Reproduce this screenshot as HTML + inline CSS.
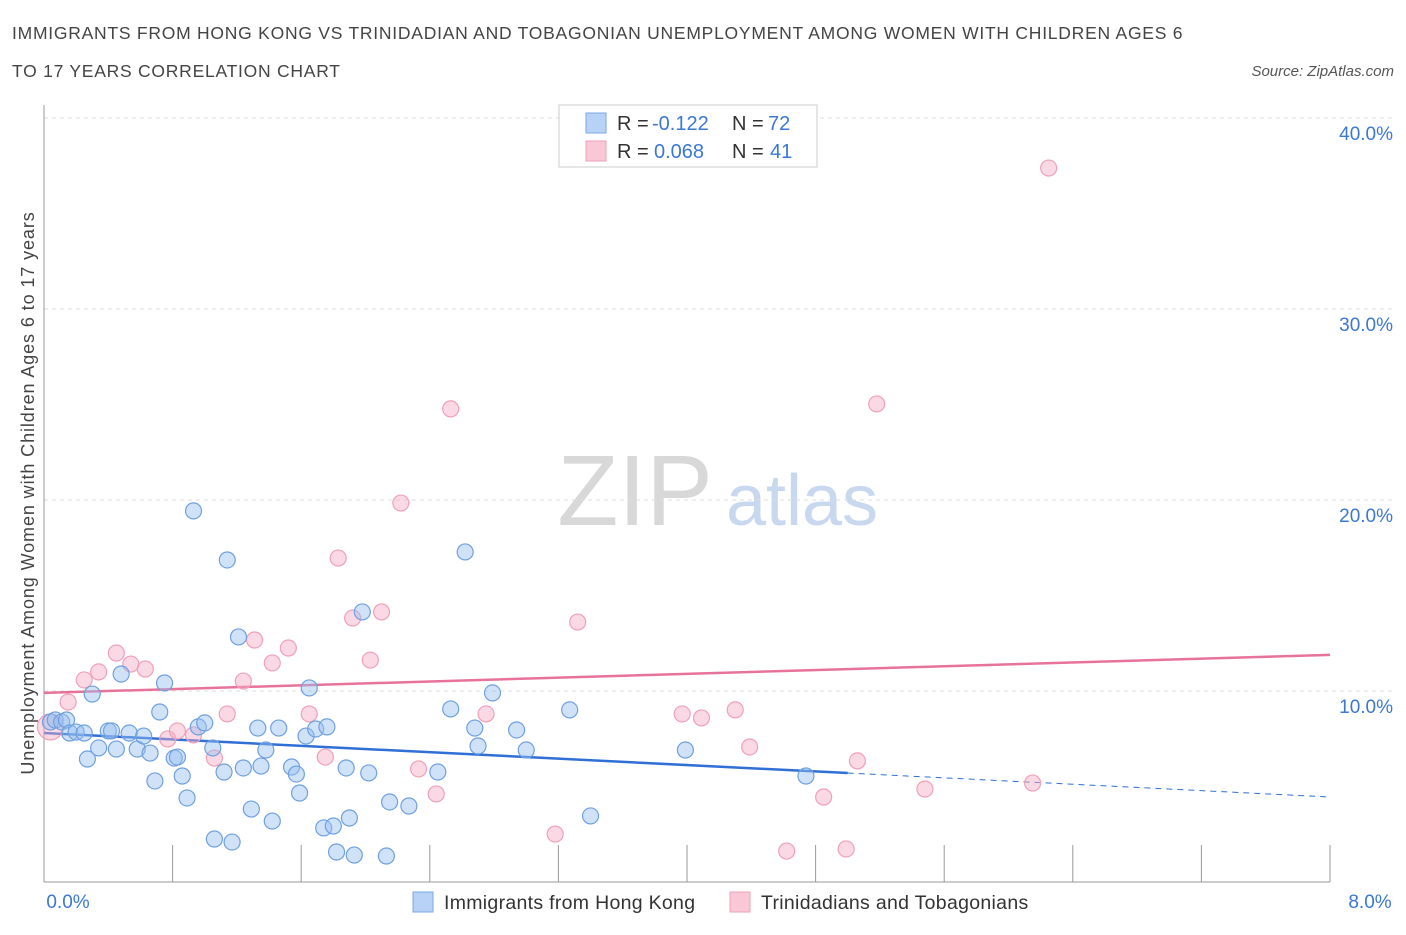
<!DOCTYPE html>
<html><head><meta charset="utf-8"><style>
body{margin:0;background:#fff;font-family:"Liberation Sans",sans-serif}
svg text{font-family:"Liberation Sans",sans-serif}
</style></head><body>
<svg id="chart" width="1406" height="930" xmlns="http://www.w3.org/2000/svg">
<text x="12" y="39" font-size="17.5" letter-spacing="0.75" fill="#444">IMMIGRANTS FROM HONG KONG VS TRINIDADIAN AND TOBAGONIAN UNEMPLOYMENT AMONG WOMEN WITH CHILDREN AGES 6</text>
<text x="12" y="77" font-size="17.5" letter-spacing="0.75" fill="#444">TO 17 YEARS CORRELATION CHART</text>
<text x="1394" y="76" font-size="15" fill="#555" font-style="italic" text-anchor="end">Source: ZipAtlas.com</text>
<text transform="translate(34,493) rotate(-90)" font-size="18" letter-spacing="0.9" fill="#444" text-anchor="middle">Unemployment Among Women with Children Ages 6 to 17 years</text>
<g><text x="635" y="525" font-size="100" fill="#d8d8d8" font-family="Liberation Serif" text-anchor="middle">ZIP</text><text x="802" y="525" font-size="72" fill="#c8d8ee" text-anchor="middle">atlas</text></g>
<g id="grid"></g><g id="axes"></g><g id="trend"></g><g id="pts"></g>
<g>
<rect x="559" y="105" width="258" height="62" fill="#fff" stroke="#ccc"/>
<rect x="586" y="113" width="20" height="20" fill="#b8d2f5" stroke="#7aaae6"/>
<rect x="586" y="141" width="20" height="20" fill="#f8c8d6" stroke="#f0a0b8"/>
<text x="617" y="130" font-size="20" fill="#333">R =</text>
<text x="652" y="130" font-size="20" fill="#3a78d4">-0.122</text>
<text x="732" y="130" font-size="20" fill="#333">N =</text>
<text x="768" y="130" font-size="20" fill="#3a78d4">72</text>
<text x="617" y="158" font-size="20" fill="#333">R =</text>
<text x="654" y="158" font-size="20" fill="#3a78d4">0.068</text>
<text x="732" y="158" font-size="20" fill="#333">N =</text>
<text x="770" y="158" font-size="20" fill="#3a78d4">41</text>
</g>
<g>
<rect x="413" y="892" width="20" height="20" fill="#b8d2f5" stroke="#7aaae6"/>
<text x="444" y="909" font-size="19.5" letter-spacing="0.3" fill="#333">Immigrants from Hong Kong</text>
<rect x="730" y="892" width="20" height="20" fill="#f8c8d6" stroke="#f0a0b8"/>
<text x="761" y="909" font-size="19.5" letter-spacing="0.3" fill="#333">Trinidadians and Tobagonians</text>
</g>
</svg>
<script>
const yTicks=[10,20,30,40];
const yTickLabels=["10.0%","20.0%","30.0%","40.0%"];
const xTickLabels=["0.0%","8.0%"];
const blueX=[0.04,0.07,0.11,0.14,0.16,0.20,0.25,0.27,0.30,0.34,0.40,0.42,0.45,0.48,0.53,0.58,0.62,0.66,0.69,0.72,0.75,0.81,0.83,0.86,0.89,0.93,0.96,1.00,1.05,1.06,1.12,1.14,1.17,1.21,1.24,1.29,1.33,1.35,1.38,1.42,1.46,1.54,1.57,1.59,1.63,1.65,1.69,1.74,1.76,1.80,1.82,1.88,1.90,1.93,1.98,2.02,2.13,2.15,2.27,2.45,2.53,2.62,2.68,2.70,2.79,2.94,3.00,3.27,3.40,3.99,4.74];
const blueY=[8.38,8.48,8.38,8.48,7.80,7.85,7.80,6.44,9.84,7.02,7.91,7.91,6.96,10.89,7.80,6.96,7.64,6.75,5.29,8.90,10.42,6.49,6.54,5.55,4.40,19.43,8.12,8.33,7.02,2.25,5.76,16.86,2.09,12.83,5.97,3.82,8.06,6.07,6.91,3.19,8.06,6.02,5.65,4.66,7.64,10.16,8.01,2.83,8.12,2.93,1.57,5.97,3.35,1.41,14.14,5.71,1.36,4.19,3.98,5.76,9.06,17.28,8.06,7.12,9.90,7.96,6.91,9.01,3.46,6.91,5.55];
const pinkX=[0.04,0.15,0.25,0.34,0.45,0.54,0.63,0.77,0.83,0.93,1.06,1.14,1.24,1.31,1.42,1.52,1.65,1.75,1.83,1.92,2.03,2.10,2.22,2.33,2.44,2.53,2.75,3.18,3.32,3.97,4.09,4.30,4.39,4.62,4.85,4.99,5.06,5.18,5.48,6.15,6.25];
const pinkY=[8.12,9.42,10.58,11.00,11.99,11.41,11.15,7.49,7.91,7.70,6.49,8.80,10.52,12.67,11.47,12.25,8.80,6.54,16.96,13.82,11.62,14.14,19.84,5.92,4.61,24.77,8.80,2.51,13.61,8.80,8.59,9.01,7.07,1.62,4.45,1.73,6.34,25.03,4.87,5.18,37.38];
const blueTrend=[7.80,-0.419];
const pinkTrend=[9.90,0.249];
const X=v=>44+v/8*1286, Y=v=>882-v*19.1;
const NS="http://www.w3.org/2000/svg";
function mk(p,t,a){const e=document.createElementNS(NS,t);for(const k in a)e.setAttribute(k,a[k]);p.appendChild(e);return e;}
const grid=document.getElementById('grid');
yTicks.forEach((t,i)=>{
 const l=mk(grid,'line',{x1:44,x2:1392,y1:Y(t),y2:Y(t),stroke:'#ddd','stroke-dasharray':'4,4'});
 
 
 const tx=mk(grid,'text',{x:1393,y:Y(t)+22,'font-size':19,fill:'#3a78d4','text-anchor':'end'});
 tx.textContent=yTickLabels[i];
 
 
});
const ax=document.getElementById('axes');
mk(ax,'line',{x1:44,x2:44,y1:105,y2:882,stroke:'#999'});
mk(ax,'line',{x1:44,x2:1330,y1:882,y2:882,stroke:'#999'});
for(let i=1;i<=10;i++){const t=mk(ax,'line',{x1:X(i*0.8),x2:X(i*0.8),y1:845,y2:882,stroke:'#999'});
 
 }
[[0,68],[8,1370]].forEach((d,i)=>{const t=mk(ax,'text',{x:d[1],y:908,'font-size':19,fill:'#3a78d4','text-anchor':'middle'});t.textContent=xTickLabels[i];
 
 });
const tr=document.getElementById('trend');
const b1=mk(tr,'line',{x1:X(0),y1:Y(blueTrend[0]),x2:X(5),y2:Y(blueTrend[0]+5*blueTrend[1]),stroke:'#2f6fd6','stroke-width':2.5});


const b2=mk(tr,'line',{x1:X(5),y1:Y(blueTrend[0]+5*blueTrend[1]),x2:X(8),y2:Y(blueTrend[0]+8*blueTrend[1]),stroke:'#2f6fd6','stroke-width':1,'stroke-dasharray':'6,5'});


const p1=mk(tr,'line',{x1:X(0),y1:Y(pinkTrend[0]),x2:X(8),y2:Y(pinkTrend[0]+8*pinkTrend[1]),stroke:'#e8739a','stroke-width':2.5});


const pts=document.getElementById('pts');
pinkX.forEach((x,i)=>{const c=mk(pts,'circle',{cx:X(x),cy:Y(pinkY[i]),r:i==0?13:8,fill:'rgba(245,170,195,0.45)',stroke:'#f0a0b8','stroke-width':1.2});
 
 });
blueX.forEach((x,i)=>{const c=mk(pts,'circle',{cx:X(x),cy:Y(blueY[i]),r:8,fill:'rgba(150,190,240,0.45)',stroke:'#6fa0e0','stroke-width':1.2});
 
 });
</script>
</body></html>
